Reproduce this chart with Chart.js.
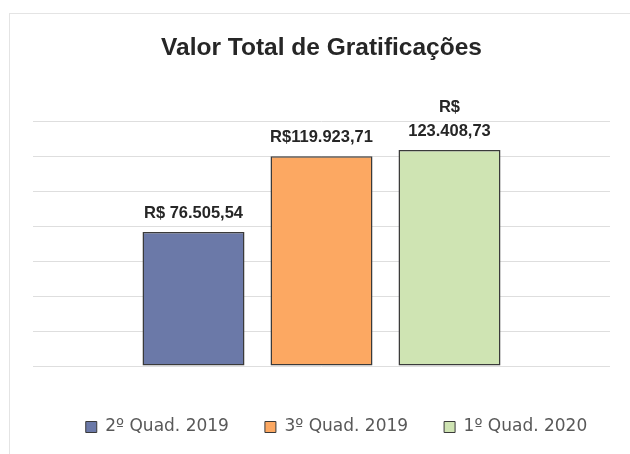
<!DOCTYPE html>
<html>
<head>
<meta charset="utf-8">
<script src="https://cdn.jsdelivr.net/npm/chart.js@4"></script>
<style>
html,body{margin:0;padding:0;background:#fff;}
#wrap{position:relative;width:630px;height:454px;}
#frame{position:absolute;left:9px;top:13px;right:-2px;bottom:-2px;border:1px solid #e4e4e4;}
canvas{position:absolute;left:0;top:0;}
</style>
</head>
<body>
<div id="wrap"><div id="frame"></div><canvas id="c" width="630" height="454"></canvas></div>
<script>
const categories = [''];
const seriesNames = ['2º Quad. 2019', '3º Quad. 2019', '1º Quad. 2020'];
const values = [76505.54, 119923.71, 123408.73];
const valueLabels = [['R$ 76.505,54'], ['R$119.923,71'], ['R$', '123.408,73']];
const colors = ['#6b79a8', '#fca862', '#cfe4b3'];
const yTicks = [0, 20000, 40000, 60000, 80000, 100000, 120000, 140000];

const datasets = seriesNames.map((n, i) => ({
  label: n,
  data: [values[i]],
  backgroundColor: colors[i],
  borderColor: '#3a3a3a',
  borderWidth: 1.5,
  borderSkipped: false,
  categoryPercentage: 0.6655,
  barPercentage: 0.797
}));

const labelPlugin = {
  id: 'valueLabels',
  afterDatasetsDraw(chart) {
    const ctx = chart.ctx;
    ctx.save();
    ctx.font = 'bold 16.5px "Liberation Sans", Arial, sans-serif';
    ctx.fillStyle = '#262626';
    ctx.textAlign = 'center';
    ctx.textBaseline = 'middle';
    chart.data.datasets.forEach((ds, i) => {
      const el = chart.getDatasetMeta(i).data[0];
      const lines = valueLabels[i];
      const n = lines.length;
      lines.forEach((t, k) => {
        const y = el.y - 19 - (n - 1 - k) * 24;
        ctx.fillText(t, el.x, y);
      });
    });
    ctx.restore();
  }
};

const legendLayout = {
  id: 'legendLayout',
  beforeInit(chart) {
    const lg = chart.legend;
    const orig = lg.fit;
    lg.fit = function () {
      orig.call(this);
      this.height = 71.5;
    };
  },
  afterLayout(chart) {
    const lg = chart.legend;
    lg.left += 15;
    lg.right += 15;
  }
};

new Chart(document.getElementById('c'), {
  type: 'bar',
  data: { labels: categories, datasets },
  options: {
    responsive: false,
    animation: false,
    layout: { padding: { left: 33, right: 20, top: 0, bottom: 0 } },
    plugins: {
      title: {
        display: true,
        text: 'Valor Total de Gratificações',
        color: '#262626',
        font: { family: '"Liberation Sans", Arial, sans-serif', size: 24.5, weight: 'bold' },
        padding: { top: 34, bottom: 57.6 }
      },
      legend: {
        position: 'bottom',
        labels: {
          color: '#595959',
          font: { family: '"DejaVu Sans", sans-serif', size: 17 },
          boxWidth: 11,
          boxHeight: 11,
          padding: 36,
          generateLabels(chart) {
            return chart.data.datasets.map((ds, i) => ({
              text: ds.label,
              fillStyle: ds.backgroundColor,
              strokeStyle: '#3a3a3a',
              lineWidth: 1,
              datasetIndex: i,
              fontColor: '#595959'
            }));
          }
        }
      },
      tooltip: { enabled: false }
    },
    scales: {
      x: {
        display: true,
        grid: { display: false },
        border: { display: false },
        ticks: { display: false },
        afterFit(s) { s.height = 16.5; }
      },
      y: {
        min: 0,
        max: 140000,
        afterBuildTicks(axis) { axis.ticks = yTicks.map(v => ({ value: v })); },
        ticks: { display: false },
        border: { display: false },
        grid: { color: '#dedede', lineWidth: 1, drawTicks: false }
      }
    }
  },
  plugins: [labelPlugin, legendLayout]
});
</script>
</body>
</html>
